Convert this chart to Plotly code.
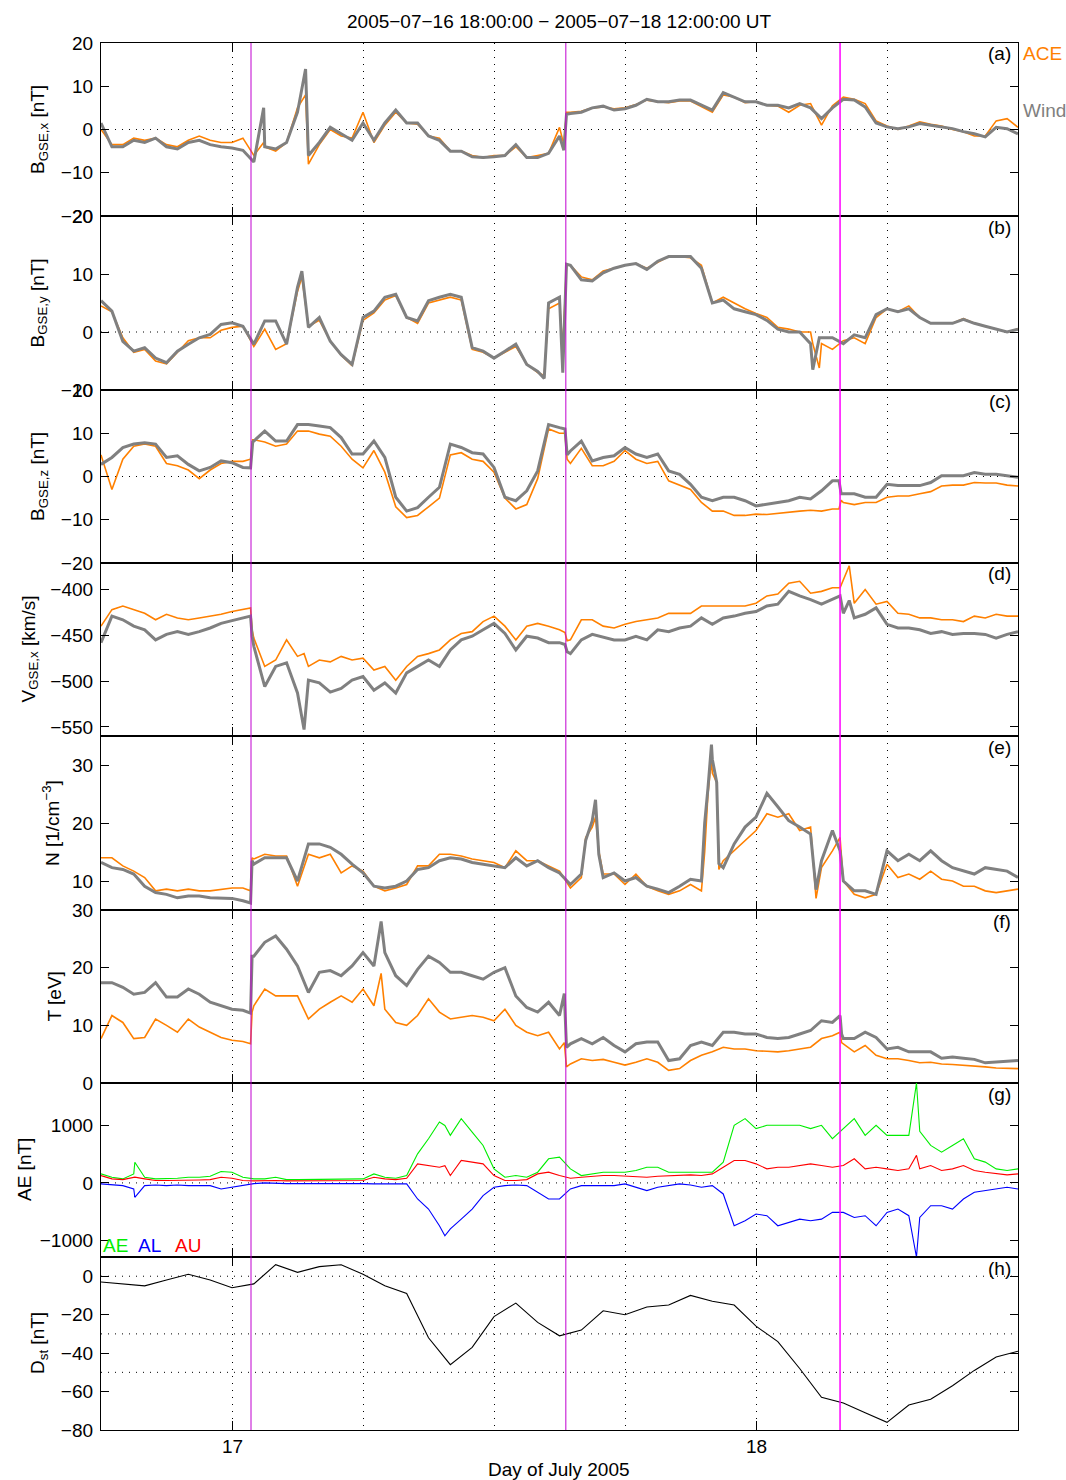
import plotly.graph_objects as go

FIG_W, FIG_H = 1066, 1480

# time axis: hours since 2005-07-16 18:00 UT (half-hour samples)
HOURS = [i * 0.5 for i in range(85)]
DST_HOURS = list(range(43))
DAY_TICK_HOURS = [6, 30]
DAY_TICK_TEXT = ["17", "18"]

# ---------------- (a) B_GSE,x [nT] ----------------
BX_WIND = [1.5, -4, -4, -2.5, -3, -2, -4, -4.5, -3, -2.5,
           -3.5, -4, -4.3, -4.8, -7.5, -4, -4.5, -3, 4, -6,
           -3, 0.5, -1, -2.5, 1.5, -2.5, 1.5, 4.5, 1.5, 1.5,
           -1.5, -2.5, -5, -5, -6.3, -6.5, -6.3, -6, -3.5, -6.5,
           -6.5, -5.5, -1.5, 3.7, 4, 5, 5.4, 4.5, 4.8, 5.6,
           7, 6.4, 6.4, 6.8, 6.8, 5.6, 4.5, 8.5, 7.5, 6.4,
           6.4, 5.6, 5.6, 5, 6, 5, 2.5, 5, 7, 6.8,
           5.2, 1.5, 0.6, 0.2, 0.6, 1.4, 1, 0.6, 0.2, -0.5,
           -1, -1.7, 0.5, 0.2, -1]
BX_ACE = [0, -3.5, -3.5, -2, -2.5, -2, -3.5, -4, -2.5, -1.5,
          -2.5, -3, -3, -2, -6, -4, -5, -3, 5, -8,
          -3.5, 0, -1.5, -2, 4, -3, 1, 4, 1.5, 1.2,
          -1.5, -2, -5, -5, -6, -6.5, -6, -6, -4, -6.5,
          -6, -5.5, 0.5, 4, 4.2, 5, 5.2, 4.8, 5, 5.8,
          6.8, 6.4, 6.2, 6.6, 6.6, 5.2, 4, 8, 7.5, 6.2,
          6.4, 5.6, 5.4, 4, 5.6, 6, 1, 5.5, 7.5, 7,
          6, 2, 0.8, 0, 0.8, 1.8, 1.2, 0.8, 0, -0.5,
          -1.5, -1.5, 2, 2.5, 0.5]
BX_EXTRA_T = [7.45, 9.37, 21.2, 21.32]
BX_EXTRA_WIND = [5, 14, -4.8, 3.5]
BX_EXTRA_ACE = [-3, 8, -3.5, 4]

# ---------------- (b) B_GSE,y [nT] ----------------
BY_WIND = [5.4, 3.6, -1.6, -3.3, -2.7, -4.5, -5.3, -3.3, -2.1, -1,
           -0.4, 1.3, 1.6, 1, -2.1, 1.9, 1.9, -2.1, 7.7, 0.8,
           2.5, -1.6, -3.9, -5.6, 2.5, 3.6, 6, 6.5, 2.5, 1.9,
           5.4, 6, 6.5, 6, -2.7, -3.3, -4.5, -3.3, -2.1, -5.6,
           -6.8, 5, 6, 11.5, 9, 8.8, 10.2, 11, 11.5, 11.8,
           10.8, 12.2, 13, 13, 13, 11, 5, 5.5, 4, 3.5,
           3, 2, 0.5, 0, 0, -2, -1, -1, -2, -0.5,
           -1, 3, 4, 3.5, 4, 2.5, 1.5, 1.5, 1.5, 2.2,
           1.5, 1, 0.5, 0, 0.5]
BY_ACE = [4.5, 3.5, -1, -3.5, -3, -5, -5.5, -3.5, -1.5, -1,
          -1, 0.3, 0.8, 1, -2.5, 0.5, -3, -2, 7, 1,
          2, -1.5, -4, -5.8, 2, 3.3, 5.5, 6.3, 2.5, 1.5,
          5, 5.5, 6, 5.5, -3, -3.5, -4.5, -3.5, -2.5, -5.5,
          -7, 4, 5, 11.5, 9.5, 9, 10.5, 11, 11.5, 11.8,
          11, 12, 13, 13, 12.8, 11.5, 5, 6, 5, 4,
          3.2, 2.5, 0.8, 0.5, 0, 0, -2, -3, -1.5, -1,
          -2, 2.5, 4, 3.5, 4.5, 2.5, 1.5, 1.5, 1.5, 2.3,
          1.5, 1, 0.5, 0, 0.5]
BY_EXTRA_T = [9.2, 20.3, 21.15, 21.32, 32.6, 32.9]
BY_EXTRA_WIND = [10.5, -8, -7, 11.7, -6.5, -1]
BY_EXTRA_ACE = [9.5, -7.5, -3, 11.5, -2, -6.2]

# ---------------- (c) B_GSE,z [nT] ----------------
BZ_WIND = [2.8, 4.4, 6.7, 7.5, 7.8, 7.5, 4.4, 4.8, 2.8, 1.3,
           2.1, 3.6, 3.2, 2.1, 8.2, 10.5, 8.2, 8.2, 12, 12,
           11.7, 11.3, 9, 5.2, 5.2, 8.2, 4.4, -4.8, -8, -7.2,
           -4.8, -2.5, 7.5, 6.7, 5.5, 5.2, 2.1, -4.8, -5.6, -3.3,
           1.3, 12, 11.3, 5.9, 8.2, 3.6, 4.4, 4.8, 6.7, 5.2,
           4.4, 5.2, 1.3, 0.5, -1.8, -4.8, -5.6, -4.8, -4.8, -5.6,
           -6.8, -6.4, -6, -5.6, -4.8, -5.2, -3.3, -1, -4, -4,
           -4.8, -4.8, -1.8, -2.1, -2.1, -2.1, -1.4, 0.2, 0.2, 0.2,
           0.9, 0.5, 0.5, 0.2, -0.2]
BZ_ACE = [5, -3, 4, 7, 7.5, 7, 3, 2.5, 1.5, -0.5,
          1.5, 3, 3.5, 3.5, 8.5, 8, 7, 7.5, 10.5, 10.5,
          9.8, 9.3, 7, 4, 2, 6, 1, -7, -9.5, -9,
          -7, -5, 5, 5.5, 4, 3.5, 1, -5, -7.5, -6.5,
          -0.5, 11, 10, 3, 6.5, 2.5, 2.5, 3.5, 6, 4,
          3, 3.5, -1, -2, -3, -6, -8, -8, -9, -9,
          -8.7, -8.8, -8.5, -8.2, -8, -7.8, -8, -7.5, -6, -6.5,
          -6, -6, -4.8, -4.5, -4.5, -4, -3.5, -2.2, -2, -2,
          -1.4, -1.5, -1.5, -2, -2.2]
BZ_EXTRA_T = [6.85, 6.95, 21.25, 21.35, 33.8, 33.9]
BZ_EXTRA_WIND = [2, 8, 11, 5, -1, -4]
BZ_EXTRA_ACE = [4, 8.5, 10, 4, -7.5, -5.5]

# ---------------- (d) V_GSE,x [km/s] ----------------
VX_WIND = [-458, -429, -433, -440, -444, -455, -449, -446, -449, -446,
           -442, -437, -434, -431, -462, -506, -484, -480, -513, -499,
           -502, -512, -508, -499, -495, -510, -502, -513, -491, -484,
           -477, -484, -466, -455, -451, -444, -437, -448, -466, -451,
           -453, -458, -458, -470, -455, -449, -452, -455, -455, -451,
           -455, -444, -446, -442, -440, -431, -438, -431, -429, -426,
           -424, -418, -416, -402, -407, -411, -416, -411, -426, -431,
           -427, -420, -438, -442, -442, -444, -448, -446, -449, -448,
           -448, -449, -453, -449, -446]
VX_ACE = [-440, -422, -418, -422, -426, -433, -427, -431, -433, -431,
          -429, -427, -424, -422, -453, -484, -477, -455, -473, -484,
          -477, -479, -473, -477, -475, -488, -484, -499, -484, -473,
          -470, -466, -455, -448, -446, -435, -429, -440, -455, -440,
          -437, -440, -444, -455, -433, -433, -440, -442, -438, -435,
          -433, -431, -426, -426, -426, -418, -418, -418, -418, -418,
          -415, -407, -405, -393, -391, -404, -402, -398, -389, -415,
          -400, -416, -413, -426, -427, -431, -431, -433, -433, -435,
          -429, -431, -427, -429, -429]
VX_EXTRA_T = [6.85, 6.92, 9.3, 21.25, 21.35, 33.85, 34.27]
VX_EXTRA_WIND = [-429, -451, -553, -460, -468, -407, -412]
VX_EXTRA_ACE = [-420, -444, -470, -447, -456, -398, -374]

# ---------------- (e) N [1/cm^3] ----------------
N_WIND = [13.2, 12.3, 12, 11.2, 9.1, 8, 7.7, 7.1, 7.4, 7.4,
          7.1, 7.1, 7, 6.6, 12.9, 14, 14, 14, 10, 16.4,
          16.4, 15.8, 14.6, 12.9, 11.4, 9.1, 8.8, 9.1, 10, 12,
          12.3, 13.5, 14, 13.8, 13.2, 12.9, 12.6, 12.3, 14, 12.6,
          13.5, 12.3, 11.4, 9.4, 11.2, 20.4, 10.6, 11.4, 10, 10.6,
          9.1, 8.6, 8, 9.1, 10.3, 10, 31, 12.3, 16.4, 19.3,
          21, 25.1, 22.8, 20.4, 19.3, 18.1, 13.5, 18.7, 10, 8.3,
          8.3, 7.7, 15.2, 13.5, 14.6, 13.5, 15.2, 13.5, 12.3, 11.7,
          11.2, 12.3, 12, 11.7, 10.6]
N_ACE = [14, 14, 12.6, 11.7, 10.6, 8.3, 8.6, 8.3, 8.6, 8.3,
         8.3, 8.6, 8.8, 8.8, 13.8, 14.6, 14.3, 14.3, 9.1, 14.6,
         14, 14.6, 11.4, 12.6, 11.7, 9.1, 8.3, 8.8, 9.4, 12.6,
         12.6, 14.6, 14.6, 14.3, 13.8, 13.5, 13.2, 12.3, 15.2, 13.5,
         13.5, 12.6, 11.7, 8.8, 10.6, 19.3, 11.2, 11.2, 9.4, 11.2,
         9.1, 8.3, 7.7, 8.3, 9.4, 8.3, 28.6, 13.5, 15.2, 17,
         18.7, 21.6, 21, 21.6, 18.7, 19.3, 12.3, 15.2, 10, 7.7,
         7.1, 7.7, 12.9, 10.6, 11.2, 10.3, 11.7, 10.3, 10, 9.1,
         9.1, 8.3, 8, 8.3, 8.6]
N_EXTRA_T = [6.85, 6.92, 22.2, 22.65, 22.8, 27.65, 27.8, 27.96, 28.2, 28.3, 32.75, 33.85]
N_EXTRA_WIND = [6.2, 13.5, 17, 24, 14.6, 20, 26, 33.5, 27, 13, 8.5, 15.2]
N_EXTRA_ACE = [8.3, 14, 17.5, 21, 15.2, 15, 25, 31, 27, 12, 7, 17.5]

# ---------------- (f) T [eV] ----------------
T_WIND = [17.4, 17.4, 16.6, 15.4, 15.7, 17.4, 14.9, 14.9, 16.3, 15.4,
          14, 13.4, 12.8, 12.6, 22, 24.4, 25.5, 23.2, 20.3, 15.7,
          19.2, 19.5, 18.6, 20.3, 22.6, 20.3, 22.6, 18.6, 16.9, 19.7,
          22, 20.9, 19.2, 19.2, 18.6, 18, 19.2, 20, 15.1, 13.1,
          12.3, 14, 11.7, 6.8, 7.7, 6.8, 7.9, 6.5, 5.4, 6.8,
          7.1, 7.1, 3.9, 4.2, 6.5, 7.1, 6.5, 8.8, 8.8, 8.5,
          8.5, 7.9, 7.7, 7.9, 8.5, 9.1, 10.8, 10.5, 7.7, 7.7,
          8.8, 7.9, 5.9, 6.2, 5.4, 5.4, 5.4, 4.3, 4.5, 4.3,
          4.1, 3.5, 3.6, 3.7, 3.9]
T_ACE = [7.7, 11.7, 10.5, 7.7, 7.9, 11.1, 10, 8.8, 11.1, 9.7,
         8.8, 7.9, 7.4, 7.2, 13.4, 16.3, 15.1, 15.1, 15.1, 11.1,
         12.8, 14, 15.1, 14, 16.3, 13.4, 12.8, 10.5, 10, 11.7,
         14.6, 12.3, 11.1, 11.4, 11.7, 11.4, 10.8, 12.8, 10, 8.8,
         8.2, 8.8, 5.9, 3.3, 4.2, 3.9, 4.1, 3.6, 3.1, 3.6,
         4.2, 3.6, 2.2, 2.5, 3.9, 4.8, 5.4, 6.2, 5.9, 5.9,
         5.6, 5.5, 5.4, 5.6, 5.9, 6.2, 7.7, 8.2, 6.8, 5.4,
         6.5, 4.8, 4.2, 4.2, 3.9, 3.5, 3.6, 3.3, 3.2, 3.1,
         2.9, 2.8, 2.6, 2.5, 2.5]
T_EXTRA_T = [6.85, 6.92, 12.83, 21.22, 21.32, 33.85, 33.92]
T_EXTRA_WIND = [12.1, 22, 28, 15.5, 6.2, 11.7, 8.5]
T_EXTRA_ACE = [6.8, 12.3, 19, 7, 2.8, 8.8, 7]

# ---------------- (g) AE / AL / AU [nT] ----------------
AE = [157, 99, 70, 157, 99, 70, 70, 82, 99, 99,
      117, 198, 187, 99, 70, 70, 99, 58, 58, 58,
      70, 58, 58, 58, 70, 157, 99, 82, 128, 507,
      770, 1061, 828, 1120, 886, 653, 245, 99, 128, 99,
      187, 420, 449, 245, 128, 157, 187, 187, 187, 216,
      274, 274, 187, 187, 187, 187, 187, 362, 1003, 1120,
      945, 1003, 1003, 1003, 1003, 945, 1003, 770, 945, 1120,
      828, 1003, 828, 828, 828, 900, 653, 536, 653, 770,
      420, 362, 245, 216, 245]
AL = [-17, -35, -47, -105, -47, -35, -47, -35, -47, -47,
      -47, -105, -76, -35, -12, 0, -12, -12, -12, -17,
      -12, -12, -12, 0, -12, -17, -23, -17, -17, -280,
      -455, -746, -800, -630, -455, -222, -76, -47, -35, -47,
      -163, -280, -280, -105, -47, -47, -47, -47, -17, -76,
      -134, -76, -47, -17, -35, -76, -47, -192, -746, -659,
      -542, -571, -746, -688, -630, -659, -630, -513, -513, -601,
      -571, -746, -513, -455, -571, -600, -397, -397, -455, -280,
      -163, -134, -105, -76, -105]
AU = [128, 70, 58, 99, 70, 41, 41, 41, 52, 52,
      58, 99, 82, 41, 35, 41, 41, 35, 35, 35,
      35, 35, 35, 35, 41, 99, 70, 58, 82, 332,
      303, 274, 128, 391, 362, 332, 128, 41, 41, 58,
      157, 187, 128, 82, 99, 117, 128, 128, 117, 117,
      99, 117, 128, 140, 140, 128, 157, 274, 391, 391,
      332, 245, 274, 274, 303, 332, 303, 274, 303, 420,
      245, 274, 245, 216, 245, 245, 303, 216, 245, 303,
      216, 187, 157, 140, 157]
AX_EXTRA_T = [1.55, 15.75, 37.35]
AE_EXTRA = [360, 1000, 1740]
AL_EXTRA = [-250, -920, -1290]
AU_EXTRA = [100, 300, 480]

# ---------------- (h) Dst [nT], hourly ----------------
DST = [-3, -4, -5, -2, 1, -2, -6, -4, 6, 2, 5, 6, 1, -5, -9, -32, -46, -37, -21, -14,
       -24, -31, -28, -18, -20, -16, -15, -10, -13, -15, -26, -34, -48, -63, -66, -71,
       -76, -67, -64, -57, -49, -42, -39]

# discontinuities (vertical markers), hours since start
EVENT_HOURS = [6.87, 21.29, 33.85]
EVENT_COLORS = ["#c000d0", "#c000d0", "#ff00ff"]
EVENT_WIDTHS = [1, 1, 1.5]

for arr in [BX_WIND, BX_ACE, BY_WIND, BY_ACE, BZ_WIND, BZ_ACE, VX_WIND, VX_ACE,
            N_WIND, N_ACE, T_WIND, T_ACE, AE, AL, AU]:
    assert len(arr) == len(HOURS), len(arr)
assert len(DST) == len(DST_HOURS)


def merge(tb, vb, te, ve):
    pts = sorted(zip(list(tb) + list(te), list(vb) + list(ve)))
    return [p[0] for p in pts], [p[1] for p in pts]


ORANGE = "#ff8000"
GRAY = "#808080"
FONT = "Liberation Sans, Arial, Helvetica, sans-serif"
FS = 19

fig = go.Figure()

panels = [
    (BX_WIND, BX_ACE, BX_EXTRA_T, BX_EXTRA_WIND, BX_EXTRA_ACE),
    (BY_WIND, BY_ACE, BY_EXTRA_T, BY_EXTRA_WIND, BY_EXTRA_ACE),
    (BZ_WIND, BZ_ACE, BZ_EXTRA_T, BZ_EXTRA_WIND, BZ_EXTRA_ACE),
    (VX_WIND, VX_ACE, VX_EXTRA_T, VX_EXTRA_WIND, VX_EXTRA_ACE),
    (N_WIND, N_ACE, N_EXTRA_T, N_EXTRA_WIND, N_EXTRA_ACE),
    (T_WIND, T_ACE, T_EXTRA_T, T_EXTRA_WIND, T_EXTRA_ACE),
]
for k, (w, a, et, ew, ea) in enumerate(panels, start=1):
    sfx = "" if k == 1 else str(k)
    ta, va = merge(HOURS, a, et, ea)
    tw, vw = merge(HOURS, w, et, ew)
    fig.add_trace(go.Scatter(x=ta, y=va, mode="lines", line=dict(color=ORANGE, width=1.6),
                             xaxis="x" + sfx, yaxis="y" + sfx, showlegend=False))
    fig.add_trace(go.Scatter(x=tw, y=vw, mode="lines", line=dict(color=GRAY, width=3),
                             xaxis="x" + sfx, yaxis="y" + sfx, showlegend=False))

for vals, ext, col in [(AE, AE_EXTRA, "#00ee00"), (AL, AL_EXTRA, "#0000ff"), (AU, AU_EXTRA, "#ff0000")]:
    tt, vv = merge(HOURS, vals, AX_EXTRA_T, ext)
    fig.add_trace(go.Scatter(x=tt, y=vv, mode="lines", line=dict(color=col, width=1.1),
                             xaxis="x7", yaxis="y7", showlegend=False))

fig.add_trace(go.Scatter(x=DST_HOURS, y=DST, mode="lines", line=dict(color="black", width=1.1),
                         xaxis="x8", yaxis="y8", showlegend=False))

X0, X1 = 101.0, 1018.0
TOP, PH = 43.0, 173.375
BOUNDS = [round(TOP + PH * i) for i in range(9)]

Y_RANGES = [[-20, 20], [-10, 20], [-20, 20], [-560, -371], [5, 35], [0, 30], [-1290, 1740], [-80, 10]]
Y_TICKS = [[-20, -10, 0, 10, 20], [-10, 0, 10, 20], [-20, -10, 0, 10, 20],
           [-550, -500, -450, -400], [10, 20, 30], [0, 10, 20, 30], [-1000, 0, 1000],
           [-80, -60, -40, -20, 0]]
Y_LABELS = ["B<sub>GSE,x</sub> [nT]", "B<sub>GSE,y</sub> [nT]", "B<sub>GSE,z</sub> [nT]",
            "V<sub>GSE,x</sub> [km/s]", "N [1/cm<sup>−3</sup>]", "T [eV]", "AE [nT]",
            "D<sub>st</sub> [nT]"]
LABEL_X = [38.5, 38.5, 38.5, 29, 51, 54, 24, 38.5]
LETTERS = ["(a)", "(b)", "(c)", "(d)", "(e)", "(f)", "(g)", "(h)"]

GRID_DASH = "1px,6px"
layout = dict(width=FIG_W, height=FIG_H, autosize=False,
              margin=dict(l=0, r=0, t=0, b=0, pad=0, autoexpand=False),
              plot_bgcolor="white", paper_bgcolor="white", showlegend=False,
              font=dict(family=FONT, size=FS, color="black"))
annotations = []
shapes = []


def py(px):
    return 1 - px / FIG_H


def pxx(px):
    return px / FIG_W


for i in range(8):
    k = i + 1
    sfx = "" if k == 1 else str(k)
    top = BOUNDS[i]
    bot = BOUNDS[i + 1]
    layout["xaxis" + sfx] = dict(
        domain=[pxx(X0), pxx(X1)], range=[0, 42], anchor="y" + sfx,
        tickmode="array", tickvals=DAY_TICK_HOURS, ticktext=DAY_TICK_TEXT,
        showticklabels=False, ticks="inside", ticklen=9, tickwidth=1, tickcolor="black",
        showline=True, linecolor="black", linewidth=1.2, mirror="allticks",
        showgrid=True, gridcolor="black", gridwidth=1, griddash=GRID_DASH,
        minor=dict(tick0=0, dtick=6, showgrid=True, gridcolor="black", gridwidth=1,
                   griddash=GRID_DASH, ticks=""),
        zeroline=False,
    )
    layout["yaxis" + sfx] = dict(
        domain=[py(bot), py(top)], range=Y_RANGES[i], anchor="x" + sfx,
        tickmode="array", tickvals=Y_TICKS[i],
        ticks="inside", ticklen=8, tickwidth=1, tickcolor="black",
        showline=True, linecolor="black", linewidth=1.2, mirror="allticks",
        showgrid=False, zeroline=False,
        tickfont=dict(family=FONT, size=FS, color="black"),
        ticklabelstandoff=3,
    )
    annotations.append(dict(text=Y_LABELS[i], x=pxx(LABEL_X[i]), y=py((top + bot) / 2),
                            xref="paper", yref="paper", textangle=-90, showarrow=False,
                            xanchor="center", yanchor="middle",
                            font=dict(family=FONT, size=FS, color="black")))
    annotations.append(dict(text=LETTERS[i], x=pxx(1013), y=py(top + 11),
                            xref="paper", yref="paper", showarrow=False,
                            xanchor="right", yanchor="middle",
                            font=dict(family=FONT, size=FS, color="black")))

# day labels under the bottom panel
for hv, txt in zip(DAY_TICK_HOURS, DAY_TICK_TEXT):
    annotations.append(dict(text=txt, x=hv, xref="x8", y=py(1446), yref="paper",
                            showarrow=False, xanchor="center", yanchor="middle",
                            font=dict(family=FONT, size=FS, color="black")))

# horizontal dotted reference lines
H_LINES = {1: [0], 2: [0], 3: [0], 7: [0], 8: [0, -30, -50]}
for k, levels in H_LINES.items():
    sfx = "" if k == 1 else str(k)
    for lv in levels:
        shapes.append(dict(type="line", xref="x" + sfx + " domain", x0=0, x1=1,
                           yref="y" + sfx, y0=lv, y1=lv, layer="below",
                           line=dict(color="black", width=1, dash=GRID_DASH)))

# event markers
for ev, col, wd in zip(EVENT_HOURS, EVENT_COLORS, EVENT_WIDTHS):
    shapes.append(dict(type="line", xref="x", x0=ev, x1=ev, yref="paper",
                       y0=py(BOUNDS[8]), y1=py(BOUNDS[0]), layer="above",
                       line=dict(color=col, width=wd)))

annotations += [
    dict(text="2005−07−16 18:00:00 − 2005−07−18 12:00:00 UT", x=pxx(559), y=py(21),
         xref="paper", yref="paper", showarrow=False, xanchor="center", yanchor="middle",
         font=dict(family=FONT, size=FS, color="black")),
    dict(text="ACE", x=pxx(1021), y=py(53), xref="paper", yref="paper", showarrow=False,
         xanchor="left", yanchor="middle", font=dict(family=FONT, size=FS, color=ORANGE)),
    dict(text="Wind", x=pxx(1021), y=py(111), xref="paper", yref="paper", showarrow=False,
         xanchor="left", yanchor="middle", font=dict(family=FONT, size=FS, color=GRAY)),
    dict(text="AE", x=pxx(101), y=py(1245), xref="paper", yref="paper", showarrow=False,
         xanchor="left", yanchor="middle", font=dict(family=FONT, size=FS, color="#00ee00")),
    dict(text="AL", x=pxx(136), y=py(1245), xref="paper", yref="paper", showarrow=False,
         xanchor="left", yanchor="middle", font=dict(family=FONT, size=FS, color="#0000ff")),
    dict(text="AU", x=pxx(173), y=py(1245), xref="paper", yref="paper", showarrow=False,
         xanchor="left", yanchor="middle", font=dict(family=FONT, size=FS, color="#ff0000")),
    dict(text="Day of July 2005", x=pxx(559), y=py(1469), xref="paper", yref="paper",
         showarrow=False, xanchor="center", yanchor="middle",
         font=dict(family=FONT, size=FS, color="black")),
]
layout["annotations"] = annotations
layout["shapes"] = shapes
fig.update_layout(**layout)

fig.write_html("out.html",
               config={"displayModeBar": False, "responsive": False},
               post_script="document.body.style.margin='0';")
